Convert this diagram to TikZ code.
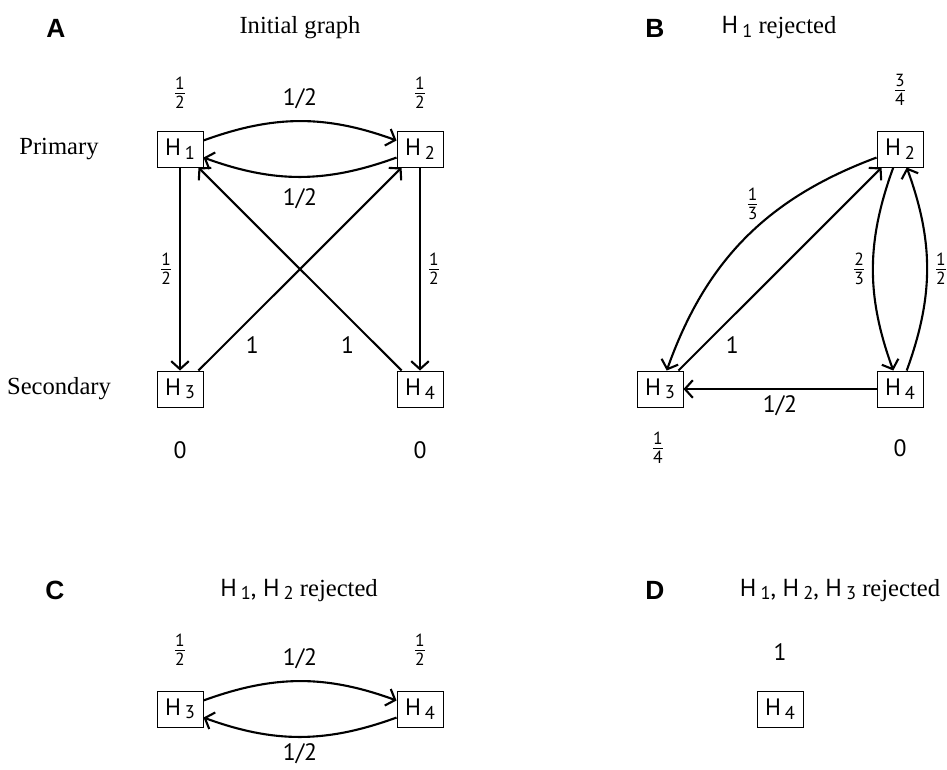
\documentclass[tikz,border=0pt]{standalone}
\usepackage{fontspec}
\setmainfont{Liberation Serif}
\setsansfont{PT Sans}
\newfontfamily\panelfont{Liberation Sans}
\usetikzlibrary{arrows.meta, positioning}

\newcommand{\hname}[1]{H\,\raisebox{-0.3ex}{\fontsize{10.5}{11}\selectfont #1}}
\newcommand{\wfrac}[2]{$\frac{\mbox{\sffamily\fontsize{10}{10}\selectfont #1}}{\mbox{\sffamily\fontsize{10}{10}\selectfont #2}}$}

\begin{document}
\begin{tikzpicture}[
    x=0.02cm, y=-0.02cm,
    every node/.style={font=\sffamily\fontsize{13.5}{16}\selectfont},
    hbox/.style={
        draw, line width=0.55pt,
        minimum width=0.92cm, minimum height=0.72cm,
        inner sep=1pt
    },
    arr/.style={
        -{Straight Barb[length=4.5pt, width=10pt]},
        line width=1.2pt
    },
    title/.style={font=\rmfamily\fontsize{14}{16}\selectfont},
    panel/.style={font=\panelfont\bfseries\fontsize{15}{17}\selectfont}
]
\useasboundingbox (0,0) rectangle (947,769);

% A: initial graph
\node[panel] (labA) at (56,28) {A};
\node[title] (titA) at (300,28) {Initial graph};
\node[title] (prim) at (59,149) {Primary};
\node[title] (sec) at (59,389) {Secondary};

\node[hbox] (a1) at (180,149) {\hname{1}};
\node[hbox] (a2) at (420,149) {\hname{2}};
\node[hbox] (a3) at (180,389) {\hname{3}};
\node[hbox] (a4) at (420,389) {\hname{4}};

\node (wa1) at (180,93) {\wfrac12};
\node (wa2) at (420,93) {\wfrac12};
\node (wa3) at (180,450) {0};
\node (wa4) at (420,450) {0};

\draw[arr] (a1) to[bend left=20] node[above=3pt] {1/2} (a2);
\draw[arr] (a2) to[bend left=20] node[below=3pt] {1/2} (a1);
\draw[arr] (a1) -- node[left] {\wfrac12} (a3);
\draw[arr] (a2) -- node[right] {\wfrac12} (a4);
\draw[arr] (a3) -- node[pos=0.2, below right] {1} (a2);
\draw[arr] (a4) -- node[pos=0.2, below left] {1} (a1);

% B: H1 rejected
\node[panel] (labB) at (655,28) {B};
\node[title] (titB) at (779,28) {{\sffamily\hname{1}} rejected};

\node[hbox] (b2) at (900,149) {\hname{2}};
\node[hbox] (b3) at (660,389) {\hname{3}};
\node[hbox] (b4) at (900,389) {\hname{4}};

\node (wb2) at (900,90) {\wfrac34};
\node (wb3) at (658,448) {\wfrac14};
\node (wb4) at (900,448) {0};

\draw[arr] (b2) to[bend right=25] node[pos=0.42, above left, inner sep=1pt] {\wfrac13} (b3);
\draw[arr] (b3) -- node[pos=0.2, below right] {1} (b2);
\draw[arr] (b2) to[bend right=20] node[left] {\wfrac23} (b4);
\draw[arr] (b4) to[bend right=20] node[right] {\wfrac12} (b2);
\draw[arr] (b4) -- node[below] {1/2} (b3);

% C: H1, H2 rejected
\node[panel] (labC) at (55,590) {C};
\node[title] (titC) at (299,590) {{\sffamily\hname{1}, \hname{2}} rejected};

\node[hbox] (c3) at (180,709) {\hname{3}};
\node[hbox] (c4) at (420,709) {\hname{4}};

\node (wc3) at (180,650) {\wfrac12};
\node (wc4) at (420,650) {\wfrac12};

\draw[arr] (c3) to[bend left=20] node[above=3pt] {1/2} (c4);
\draw[arr] (c4) to[bend left=20] node[below=2pt, inner sep=1pt] {1/2} (c3);

% D: H1, H2, H3 rejected
\node[panel] (labD) at (655,590) {D};
\node[title] (titD) at (840,590) {{\sffamily\hname{1}, \hname{2}, \hname{3}} rejected};

\node[hbox] (d4) at (780,709) {\hname{4}};
\node (wd4) at (780,652) {1};

\end{tikzpicture}
\end{document}
